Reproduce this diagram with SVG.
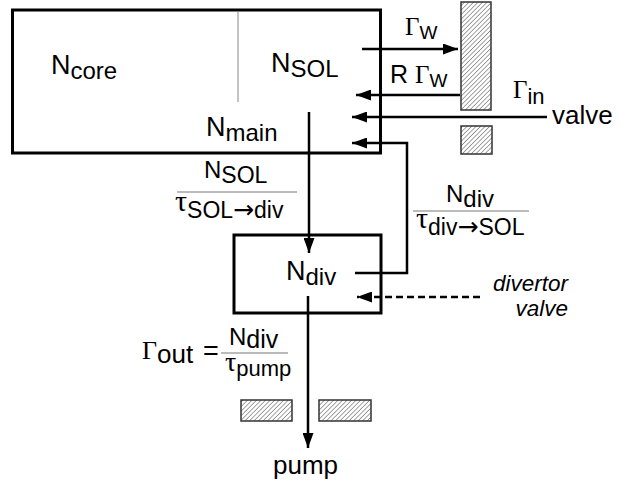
<svg xmlns="http://www.w3.org/2000/svg" width="620" height="486" viewBox="0 0 620 486">
<style>
.box{fill:none;stroke:#000;stroke-width:3}
.div{fill:none;stroke:#888;stroke-width:1}
.ln{fill:none;stroke:#000;stroke-width:2.5}
.dash{fill:none;stroke:#000;stroke-width:2.5;stroke-dasharray:7,4}
.hatch{fill:url(#h);stroke:#333;stroke-width:1.5}
.bar{stroke:#777;stroke-width:1}
text{font-family:"Liberation Sans",Arial,sans-serif;fill:#000}
.g{font-family:"Liberation Serif","Times New Roman",serif}
.ar{font-family:"DejaVu Sans",sans-serif}
.it{font-style:italic}
</style>
<defs>
<pattern id="h" width="3.2" height="3.2" patternUnits="userSpaceOnUse" patternTransform="rotate(45)">
<rect width="3.2" height="3.2" fill="#fff"/>
<line x1="0" y1="0" x2="0" y2="3.2" stroke="#666" stroke-width="1.2"/>
</pattern>
<marker id="a" markerWidth="15" markerHeight="11" refX="15" refY="5.5" orient="auto" markerUnits="userSpaceOnUse">
<path d="M0,0 L15,5.5 L0,11 z" fill="#000"/>
</marker>
</defs>

<g id="main-box">
<rect class="box" x="12.5" y="10" width="368" height="143"/>
<line class="div" x1="238" y1="11" x2="238" y2="102"/>
<text x="51" y="74" font-size="27">N<tspan font-size="24" dy="5">core</tspan></text>
<text x="271" y="72" font-size="27">N<tspan font-size="24" dy="5">SOL</tspan></text>
<text x="206" y="136" font-size="27">N<tspan font-size="24" dy="5">main</tspan></text>
</g>

<g id="div-box">
<rect class="box" x="234" y="235" width="147" height="78"/>
<text x="286" y="280" font-size="27">N<tspan font-size="24" dy="5">div</tspan></text>
</g>

<g id="wall">
<rect class="hatch" x="461" y="2" width="30" height="108"/>
<rect class="hatch" x="461" y="126" width="31" height="28"/>
</g>

<g id="pump-baffles">
<rect class="hatch" x="241" y="400" width="51" height="21"/>
<rect class="hatch" x="319" y="400" width="52" height="21"/>
</g>

<g id="connectors">
<line class="ln" x1="362" y1="49" x2="458" y2="49" marker-end="url(#a)"/>
<line class="ln" x1="460" y1="95" x2="356" y2="95" marker-end="url(#a)"/>
<line class="ln" x1="547" y1="117" x2="352" y2="117" marker-end="url(#a)"/>
<polyline class="ln" points="355,273 407,273 407,143 352,143" marker-end="url(#a)"/>
<line class="ln" x1="309" y1="112" x2="309" y2="253" marker-end="url(#a)"/>
<line class="dash" x1="480" y1="297" x2="357" y2="297" marker-end="url(#a)"/>
<line class="ln" x1="308" y1="296" x2="308" y2="448" marker-end="url(#a)"/>
</g>

<g id="labels">
<text x="405" y="35" font-size="25"><tspan class="g">Γ</tspan><tspan font-size="19" dy="4">W</tspan></text>
<text x="390" y="83" font-size="25">R <tspan class="g">Γ</tspan><tspan font-size="19" dy="4">W</tspan></text>
<text x="513" y="98" font-size="25"><tspan class="g">Γ</tspan><tspan font-size="22" dy="6">in</tspan></text>
<text x="552" y="124" font-size="26">valve</text>

<text x="204" y="178" font-size="24">N<tspan font-size="23" dy="5">SOL</tspan></text>
<line class="bar" x1="177" y1="192" x2="297" y2="192"/>
<text x="175" y="211" font-size="30"><tspan class="g">τ</tspan><tspan font-size="23" dy="7">SOL</tspan><tspan class="ar" font-size="25">→</tspan><tspan font-size="23">div</tspan></text>

<text x="446" y="202" font-size="24">N<tspan font-size="24" dy="5">div</tspan></text>
<line class="bar" x1="413" y1="211" x2="529" y2="211"/>
<text x="416" y="228" font-size="30"><tspan class="g">τ</tspan><tspan font-size="23" dy="7">div</tspan><tspan class="ar" font-size="25">→</tspan><tspan font-size="23">SOL</tspan></text>

<text x="568" y="291" font-size="22.5" class="it" text-anchor="end">divertor</text>
<text x="568" y="316" font-size="22.5" class="it" text-anchor="end">valve</text>

<text x="142" y="359" font-size="26"><tspan class="g">Γ</tspan><tspan font-size="26" dy="4">out</tspan></text>
<text x="203" y="360" font-size="27">=</text>
<text x="229" y="345" font-size="24">N<tspan font-size="25" dy="3">div</tspan></text>
<line class="bar" x1="221" y1="353" x2="288" y2="353"/>
<text x="225" y="371" font-size="28"><tspan class="g">τ</tspan><tspan font-size="22" dy="5">pump</tspan></text>

<text x="273" y="474" font-size="26">pump</text>
</g>
</svg>
